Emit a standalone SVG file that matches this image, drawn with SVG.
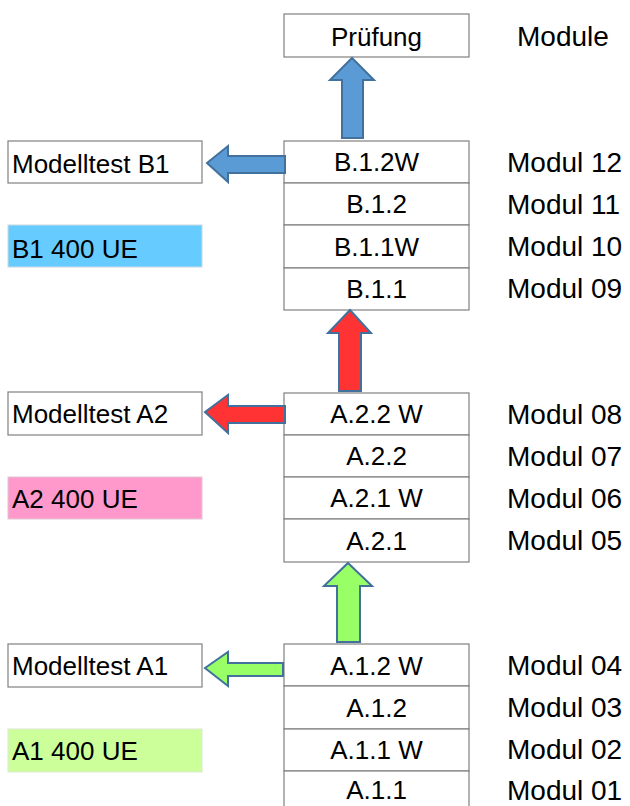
<svg xmlns="http://www.w3.org/2000/svg" width="630" height="806" viewBox="0 0 630 806">
<style>
.box{fill:#fff;stroke:#808080;stroke-width:1.2}
.t{font-family:"Liberation Sans",Arial,sans-serif;font-size:26px;fill:#000}
.c{text-anchor:middle}
.m{font-family:"Liberation Sans",Arial,sans-serif;font-size:28px;fill:#000}
.arr{stroke:#41719C;stroke-width:2;stroke-linejoin:miter}
</style>
<rect width="630" height="806" fill="#fff"/>
<g id="pruefung"><rect class="box" x="284" y="14" width="185" height="43"/><text class="t c" x="376.5" y="46">Prüfung</text></g>
<text class="m" x="517" y="46">Module</text>

<g id="b1">
<g id="b12w"><rect class="box" x="284" y="141" width="185" height="42"/><text class="t c" x="376.5" y="171">B.1.2W</text></g>
<g id="b12"><rect class="box" x="284" y="183" width="185" height="42"/><text class="t c" x="376.5" y="213">B.1.2</text></g>
<g id="b11w"><rect class="box" x="284" y="225" width="185" height="43"/><text class="t c" x="376.5" y="256">B.1.1W</text></g>
<g id="b11"><rect class="box" x="284" y="268" width="185" height="42"/><text class="t c" x="376.5" y="298">B.1.1</text></g>
</g>
<g id="a2">
<g id="a22w"><rect class="box" x="284" y="393" width="185" height="42"/><text class="t c" x="376.5" y="423">A.2.2 W</text></g>
<g id="a22"><rect class="box" x="284" y="435" width="185" height="42"/><text class="t c" x="376.5" y="465">A.2.2</text></g>
<g id="a21w"><rect class="box" x="284" y="477" width="185" height="42"/><text class="t c" x="376.5" y="507">A.2.1 W</text></g>
<g id="a21"><rect class="box" x="284" y="519" width="185" height="43"/><text class="t c" x="376.5" y="550">A.2.1</text></g>
</g>
<g id="a1">
<g id="a12w"><rect class="box" x="284" y="644" width="185" height="42"/><text class="t c" x="376.5" y="675">A.1.2 W</text></g>
<g id="a12"><rect class="box" x="284" y="686" width="185" height="43"/><text class="t c" x="376.5" y="717">A.1.2</text></g>
<g id="a11w"><rect class="box" x="284" y="729" width="185" height="42"/><text class="t c" x="376.5" y="759">A.1.1 W</text></g>
<g id="a11"><rect class="box" x="284" y="771" width="185" height="42"/><text class="t c" x="376.5" y="799">A.1.1</text></g>
</g>

<g id="mtb1"><rect class="box" x="8" y="141" width="194" height="42"/><text class="t" x="12" y="173">Modelltest B1</text></g>
<g id="ueb1"><rect x="8" y="225" width="194" height="42" fill="#66CCFF" stroke="#c8d8e0" stroke-width="1"/><text class="t" x="12" y="258">B1 400 UE</text></g>
<g id="mta2"><rect class="box" x="8" y="392" width="194" height="43"/><text class="t" x="12" y="423">Modelltest A2</text></g>
<g id="uea2"><rect x="8" y="477" width="194" height="42" fill="#FF99CC" stroke="#e0c8d4" stroke-width="1"/><text class="t" x="12" y="508">A2 400 UE</text></g>
<g id="mta1"><rect class="box" x="8" y="644" width="194" height="43"/><text class="t" x="12" y="675">Modelltest A1</text></g>
<g id="uea1"><rect x="8" y="729" width="194" height="43" fill="#CCFF99" stroke="#dde8d0" stroke-width="1"/><text class="t" x="12" y="760">A1 400 UE</text></g>

<g id="labels">
<text class="m" x="507" y="172">Modul 12</text>
<text class="m" x="507" y="214">Modul 11</text>
<text class="m" x="507" y="256">Modul 10</text>
<text class="m" x="507" y="298">Modul 09</text>
<text class="m" x="507" y="424">Modul 08</text>
<text class="m" x="507" y="466">Modul 07</text>
<text class="m" x="507" y="508">Modul 06</text>
<text class="m" x="507" y="550">Modul 05</text>
<text class="m" x="507" y="675">Modul 04</text>
<text class="m" x="507" y="717">Modul 03</text>
<text class="m" x="507" y="759">Modul 02</text>
<text class="m" x="507" y="800">Modul 01</text>
</g>

<g id="connectors">
<polygon class="arr" fill="#5B9BD5" points="352,58 374,80 363,80 363,138 342,138 342,80 330,80"/>
<polygon class="arr" fill="#5B9BD5" points="207,163 228,146 228,156 285,156 285,173 228,173 228,182"/>
<polygon class="arr" fill="#FF3333" points="350,310 371,333 361,333 361,391 339,391 339,333 328,333"/>
<polygon class="arr" fill="#FF3333" points="205,412 228,395 228,406 285,406 285,423 228,423 228,433"/>
<polygon class="arr" fill="#99FF66" points="348,563 372,586 360,586 360,642 337,642 337,586 324,586"/>
<polygon class="arr" fill="#99FF66" points="205,668 228,652 228,663 283,663 283,676 228,676 228,686"/>
</g>
</svg>
